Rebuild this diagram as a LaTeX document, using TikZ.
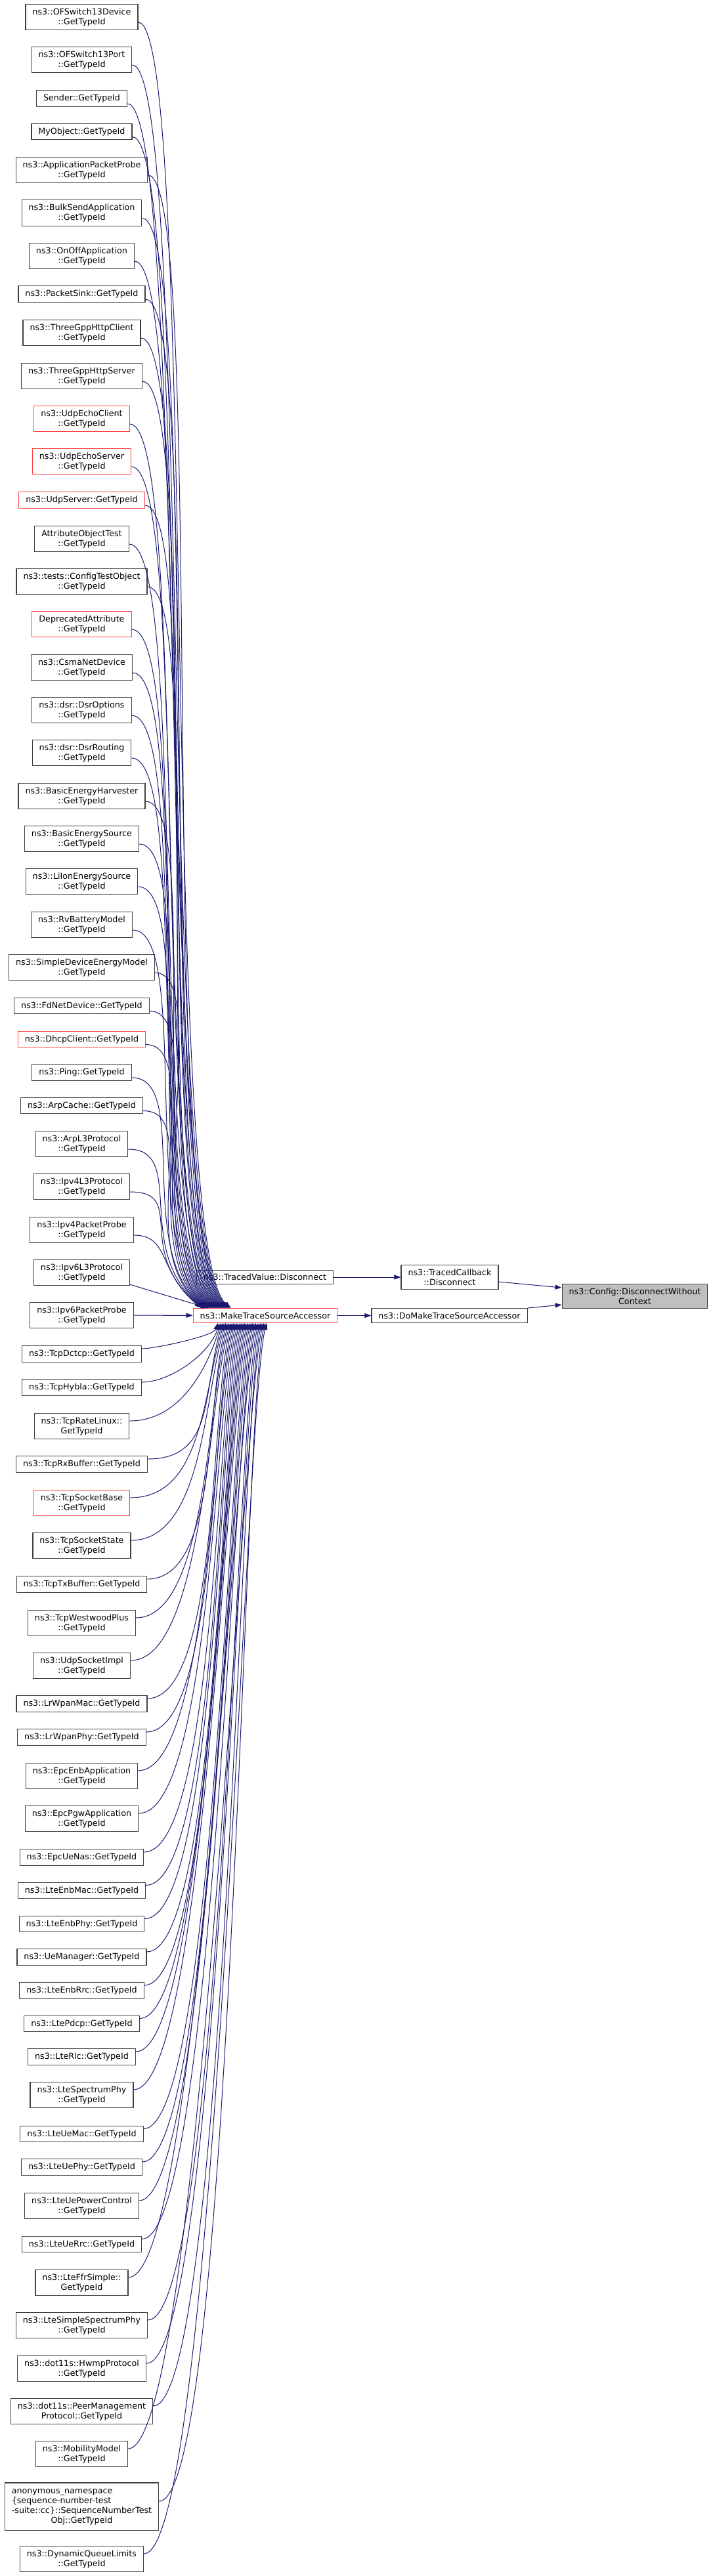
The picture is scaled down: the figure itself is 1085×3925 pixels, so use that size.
\documentclass[tikz,border=0pt]{standalone}
\usepackage{fontspec}
\setmainfont{DejaVu Sans}
\usepackage{xcolor}
\usepackage{tikz}
\usetikzlibrary{calc,arrows.meta}
\definecolor{edgeblue}{HTML}{191970}
\definecolor{boxgray}{HTML}{404040}
\definecolor{trunc}{HTML}{FF4040}
\definecolor{rootfill}{HTML}{BFBFBF}
\tikzset{
  fn/.style={
    draw=boxgray,
    fill=white,
    line width=1.1pt,
    font=\fontsize{12.7}{15}\selectfont,
    align=center,
    inner xsep=10.5pt,
    inner ysep=6pt
  },
  fnred/.style={fn, draw=trunc},
  root/.style={fn, fill=rootfill},
  callee/.style={draw=edgeblue, line width=1pt, -{Triangle[length=10pt,width=7pt]}}
}

\begin{document}
\begin{tikzpicture}[x=1pt, y=-1pt]
  \useasboundingbox (0,0) rectangle (1085,3925);

  \node[fn] (ofsdev) at (124.5,26) {ns3::OFSwitch13Device\\::GetTypeId};
  \node[fn] (ofsport) at (124.5,91) {ns3::OFSwitch13Port\\::GetTypeId};
  \node[fn] (sender) at (124.5,150) {Sender::GetTypeId};
  \node[fn] (myobject) at (124.5,200.5) {MyObject::GetTypeId};
  \node[fn] (appprobe) at (124.5,259) {ns3::ApplicationPacketProbe\\::GetTypeId};
  \node[fn] (bulksend) at (124.5,324.5) {ns3::BulkSendApplication\\::GetTypeId};
  \node[fn] (onoff) at (124.5,390) {ns3::OnOffApplication\\::GetTypeId};
  \node[fn] (packetsink) at (124.5,448) {ns3::PacketSink::GetTypeId};
  \node[fn] (httpclient) at (124.5,507) {ns3::ThreeGppHttpClient\\::GetTypeId};
  \node[fn] (httpserver) at (124.5,573) {ns3::ThreeGppHttpServer\\::GetTypeId};
  \node[fnred] (echoclient) at (124.5,638) {ns3::UdpEchoClient\\::GetTypeId};
  \node[fnred] (echoserver) at (124.5,703) {ns3::UdpEchoServer\\::GetTypeId};
  \node[fnred] (udpserver) at (124.5,762) {ns3::UdpServer::GetTypeId};
  \node[fn] (attrtest) at (124.5,821) {AttributeObjectTest\\::GetTypeId};
  \node[fn] (configtest) at (124.5,886) {ns3::tests::ConfigTestObject\\::GetTypeId};
  \node[fnred] (deprecated) at (124.5,951) {DeprecatedAttribute\\::GetTypeId};
  \node[fn] (csma) at (124.5,1017) {ns3::CsmaNetDevice\\::GetTypeId};
  \node[fn] (dsropt) at (124.5,1082) {ns3::dsr::DsrOptions\\::GetTypeId};
  \node[fn] (dsrrouting) at (124.5,1147) {ns3::dsr::DsrRouting\\::GetTypeId};
  \node[fn] (harvester) at (124.5,1213) {ns3::BasicEnergyHarvester\\::GetTypeId};
  \node[fn] (basicsource) at (124.5,1278) {ns3::BasicEnergySource\\::GetTypeId};
  \node[fn] (liion) at (124.5,1343) {ns3::LiIonEnergySource\\::GetTypeId};
  \node[fn] (rvbattery) at (124.5,1409) {ns3::RvBatteryModel\\::GetTypeId};
  \node[fn] (simpledev) at (124.5,1474) {ns3::SimpleDeviceEnergyModel\\::GetTypeId};
  \node[fn] (fdnet) at (124.5,1532.5) {ns3::FdNetDevice::GetTypeId};
  \node[fnred] (dhcp) at (124.5,1583.5) {ns3::DhcpClient::GetTypeId};
  \node[fn] (ping) at (124.5,1634) {ns3::Ping::GetTypeId};
  \node[fn] (arpcache) at (124.5,1684.5) {ns3::ArpCache::GetTypeId};
  \node[fn] (arpl3) at (124.5,1743) {ns3::ArpL3Protocol\\::GetTypeId};
  \node[fn] (ipv4l3) at (124.5,1808) {ns3::Ipv4L3Protocol\\::GetTypeId};
  \node[fn] (ipv4probe) at (124.5,1874) {ns3::Ipv4PacketProbe\\::GetTypeId};
  \node[fn] (ipv6l3) at (124.5,1939) {ns3::Ipv6L3Protocol\\::GetTypeId};
  \node[fn] (ipv6probe) at (124.5,2004) {ns3::Ipv6PacketProbe\\::GetTypeId};
  \node[fn] (tcpdctcp) at (124.5,2063) {ns3::TcpDctcp::GetTypeId};
  \node[fn] (tcphybla) at (124.5,2114) {ns3::TcpHybla::GetTypeId};
  \node[fn] (tcpratelinux) at (124.5,2173) {ns3::TcpRateLinux::\\GetTypeId};
  \node[fn] (tcprxbuf) at (124.5,2231) {ns3::TcpRxBuffer::GetTypeId};
  \node[fnred] (tcpsockbase) at (124.5,2290) {ns3::TcpSocketBase\\::GetTypeId};
  \node[fn] (tcpsockstate) at (124.5,2355) {ns3::TcpSocketState\\::GetTypeId};
  \node[fn] (tcptxbuf) at (124.5,2414) {ns3::TcpTxBuffer::GetTypeId};
  \node[fn] (westwood) at (124.5,2473) {ns3::TcpWestwoodPlus\\::GetTypeId};
  \node[fn] (udpsock) at (124.5,2538) {ns3::UdpSocketImpl\\::GetTypeId};
  \node[fn] (lrwpanmac) at (124.5,2596) {ns3::LrWpanMac::GetTypeId};
  \node[fn] (lrwpanphy) at (124.5,2647) {ns3::LrWpanPhy::GetTypeId};
  \node[fn] (epcenb) at (124.5,2706) {ns3::EpcEnbApplication\\::GetTypeId};
  \node[fn] (epcpgw) at (124.5,2771) {ns3::EpcPgwApplication\\::GetTypeId};
  \node[fn] (epcuenas) at (124.5,2830) {ns3::EpcUeNas::GetTypeId};
  \node[fn] (lteenbmac) at (124.5,2880.5) {ns3::LteEnbMac::GetTypeId};
  \node[fn] (lteenbphy) at (124.5,2931.5) {ns3::LteEnbPhy::GetTypeId};
  \node[fn] (uemanager) at (124.5,2982) {ns3::UeManager::GetTypeId};
  \node[fn] (lteenbrrc) at (124.5,3033) {ns3::LteEnbRrc::GetTypeId};
  \node[fn] (ltepdcp) at (124.5,3083.5) {ns3::LtePdcp::GetTypeId};
  \node[fn] (lterlc) at (124.5,3134) {ns3::LteRlc::GetTypeId};
  \node[fn] (ltespectrum) at (124.5,3192) {ns3::LteSpectrumPhy\\::GetTypeId};
  \node[fn] (lteuemac) at (124.5,3251.5) {ns3::LteUeMac::GetTypeId};
  \node[fn] (lteuephy) at (124.5,3302) {ns3::LteUePhy::GetTypeId};
  \node[fn] (uepower) at (124.5,3361) {ns3::LteUePowerControl\\::GetTypeId};
  \node[fn] (lteuerrc) at (124.5,3419.5) {ns3::LteUeRrc::GetTypeId};
  \node[fn] (lteffr) at (124.5,3478) {ns3::LteFfrSimple::\\GetTypeId};
  \node[fn] (simplespectrum) at (124.5,3543) {ns3::LteSimpleSpectrumPhy\\::GetTypeId};
  \node[fn] (hwmp) at (124.5,3609) {ns3::dot11s::HwmpProtocol\\::GetTypeId};
  \node[fn] (peermgmt) at (124.5,3674) {ns3::dot11s::PeerManagement\\Protocol::GetTypeId};
  \node[fn] (mobility) at (124.5,3739) {ns3::MobilityModel\\::GetTypeId};
  \node[fn] (seqnum) at (124.5,3819) {\begin{tabular}{@{}l@{}}anonymous\_namespace\\\{sequence-number-test\\-suite::cc\}::SequenceNumberTest\\\multicolumn{1}{@{}c@{}}{Obj::GetTypeId}\end{tabular}};
  \node[fn] (dql) at (124.5,3899) {ns3::DynamicQueueLimits\\::GetTypeId};

  \node[fn] (tvdisc) at (403.5,1946) {ns3::TracedValue::Disconnect};
  \node[fnred] (mtsa) at (404,2004.5) {ns3::MakeTraceSourceAccessor};
  \node[fn] (tcbdisc) at (685,1946) {ns3::TracedCallback\\::Disconnect};
  \node[fn] (domake) at (684.5,2004.5) {ns3::DoMakeTraceSourceAccessor};
  \node[root] (config) at (967,1975) {ns3::Config::DisconnectWithout\\Context};

  \foreach \src [count=\k] in {ofsdev,ofsport,sender,myobject,appprobe,bulksend,onoff,packetsink,httpclient,httpserver,echoclient,echoserver,udpserver,attrtest,configtest,deprecated,csma,dsropt,dsrrouting,harvester,basicsource,liion,rvbattery,simpledev,fdnet,dhcp,ping,arpcache,arpl3,ipv4l3,ipv4probe}
    \draw[callee] let \p1=($(\src.east)+(0,8)$), \p2=($(mtsa.north west)+({58-1.5*(\k-1)},0)$), \n1={min(90,0.5*((\y1)-(\y2)))} in
      (\p1) .. controls (\x1+\n1,\y1) and (\x2-1.2*\n1,\y2+\n1) .. (\p2);

  \foreach \src [count=\k] in {tcpdctcp,tcphybla,tcpratelinux,tcprxbuf,tcpsockbase,tcpsockstate,tcptxbuf,westwood,udpsock,lrwpanmac,lrwpanphy,epcenb,epcpgw,epcuenas,lteenbmac,lteenbphy,uemanager,lteenbrrc,ltepdcp,lterlc,ltespectrum,lteuemac,lteuephy,uepower,lteuerrc,lteffr,simplespectrum,hwmp,peermgmt,mobility,seqnum,dql}
    \draw[callee] let \p1=($(\src.east)+(0,-8)$), \p2=($(mtsa.south west)+({38+75*(\k-1)/31},0)$), \n1={min(110,0.5*((\y2)-(\y1)))} in
      (\p1) .. controls (\x1+\n1,\y1) and (\x2-0.3*\n1,\y2-\n1) .. (\p2);

  \draw[callee] ($(ipv6l3.south east)+(0,-2)$) -- ($(mtsa.north west)+(23,0)$);
  \draw[callee] (ipv6probe) -- (mtsa);
  \draw[callee] (tvdisc) -- (tcbdisc);
  \draw[callee] (mtsa) -- (domake);
  \draw[callee] ($(tcbdisc.east)+(0,7)$) -- ($(config.west)+(0,-13)$);
  \draw[callee] (domake.north east) -- ($(config.west)+(0,13)$);
\end{tikzpicture}
\end{document}
